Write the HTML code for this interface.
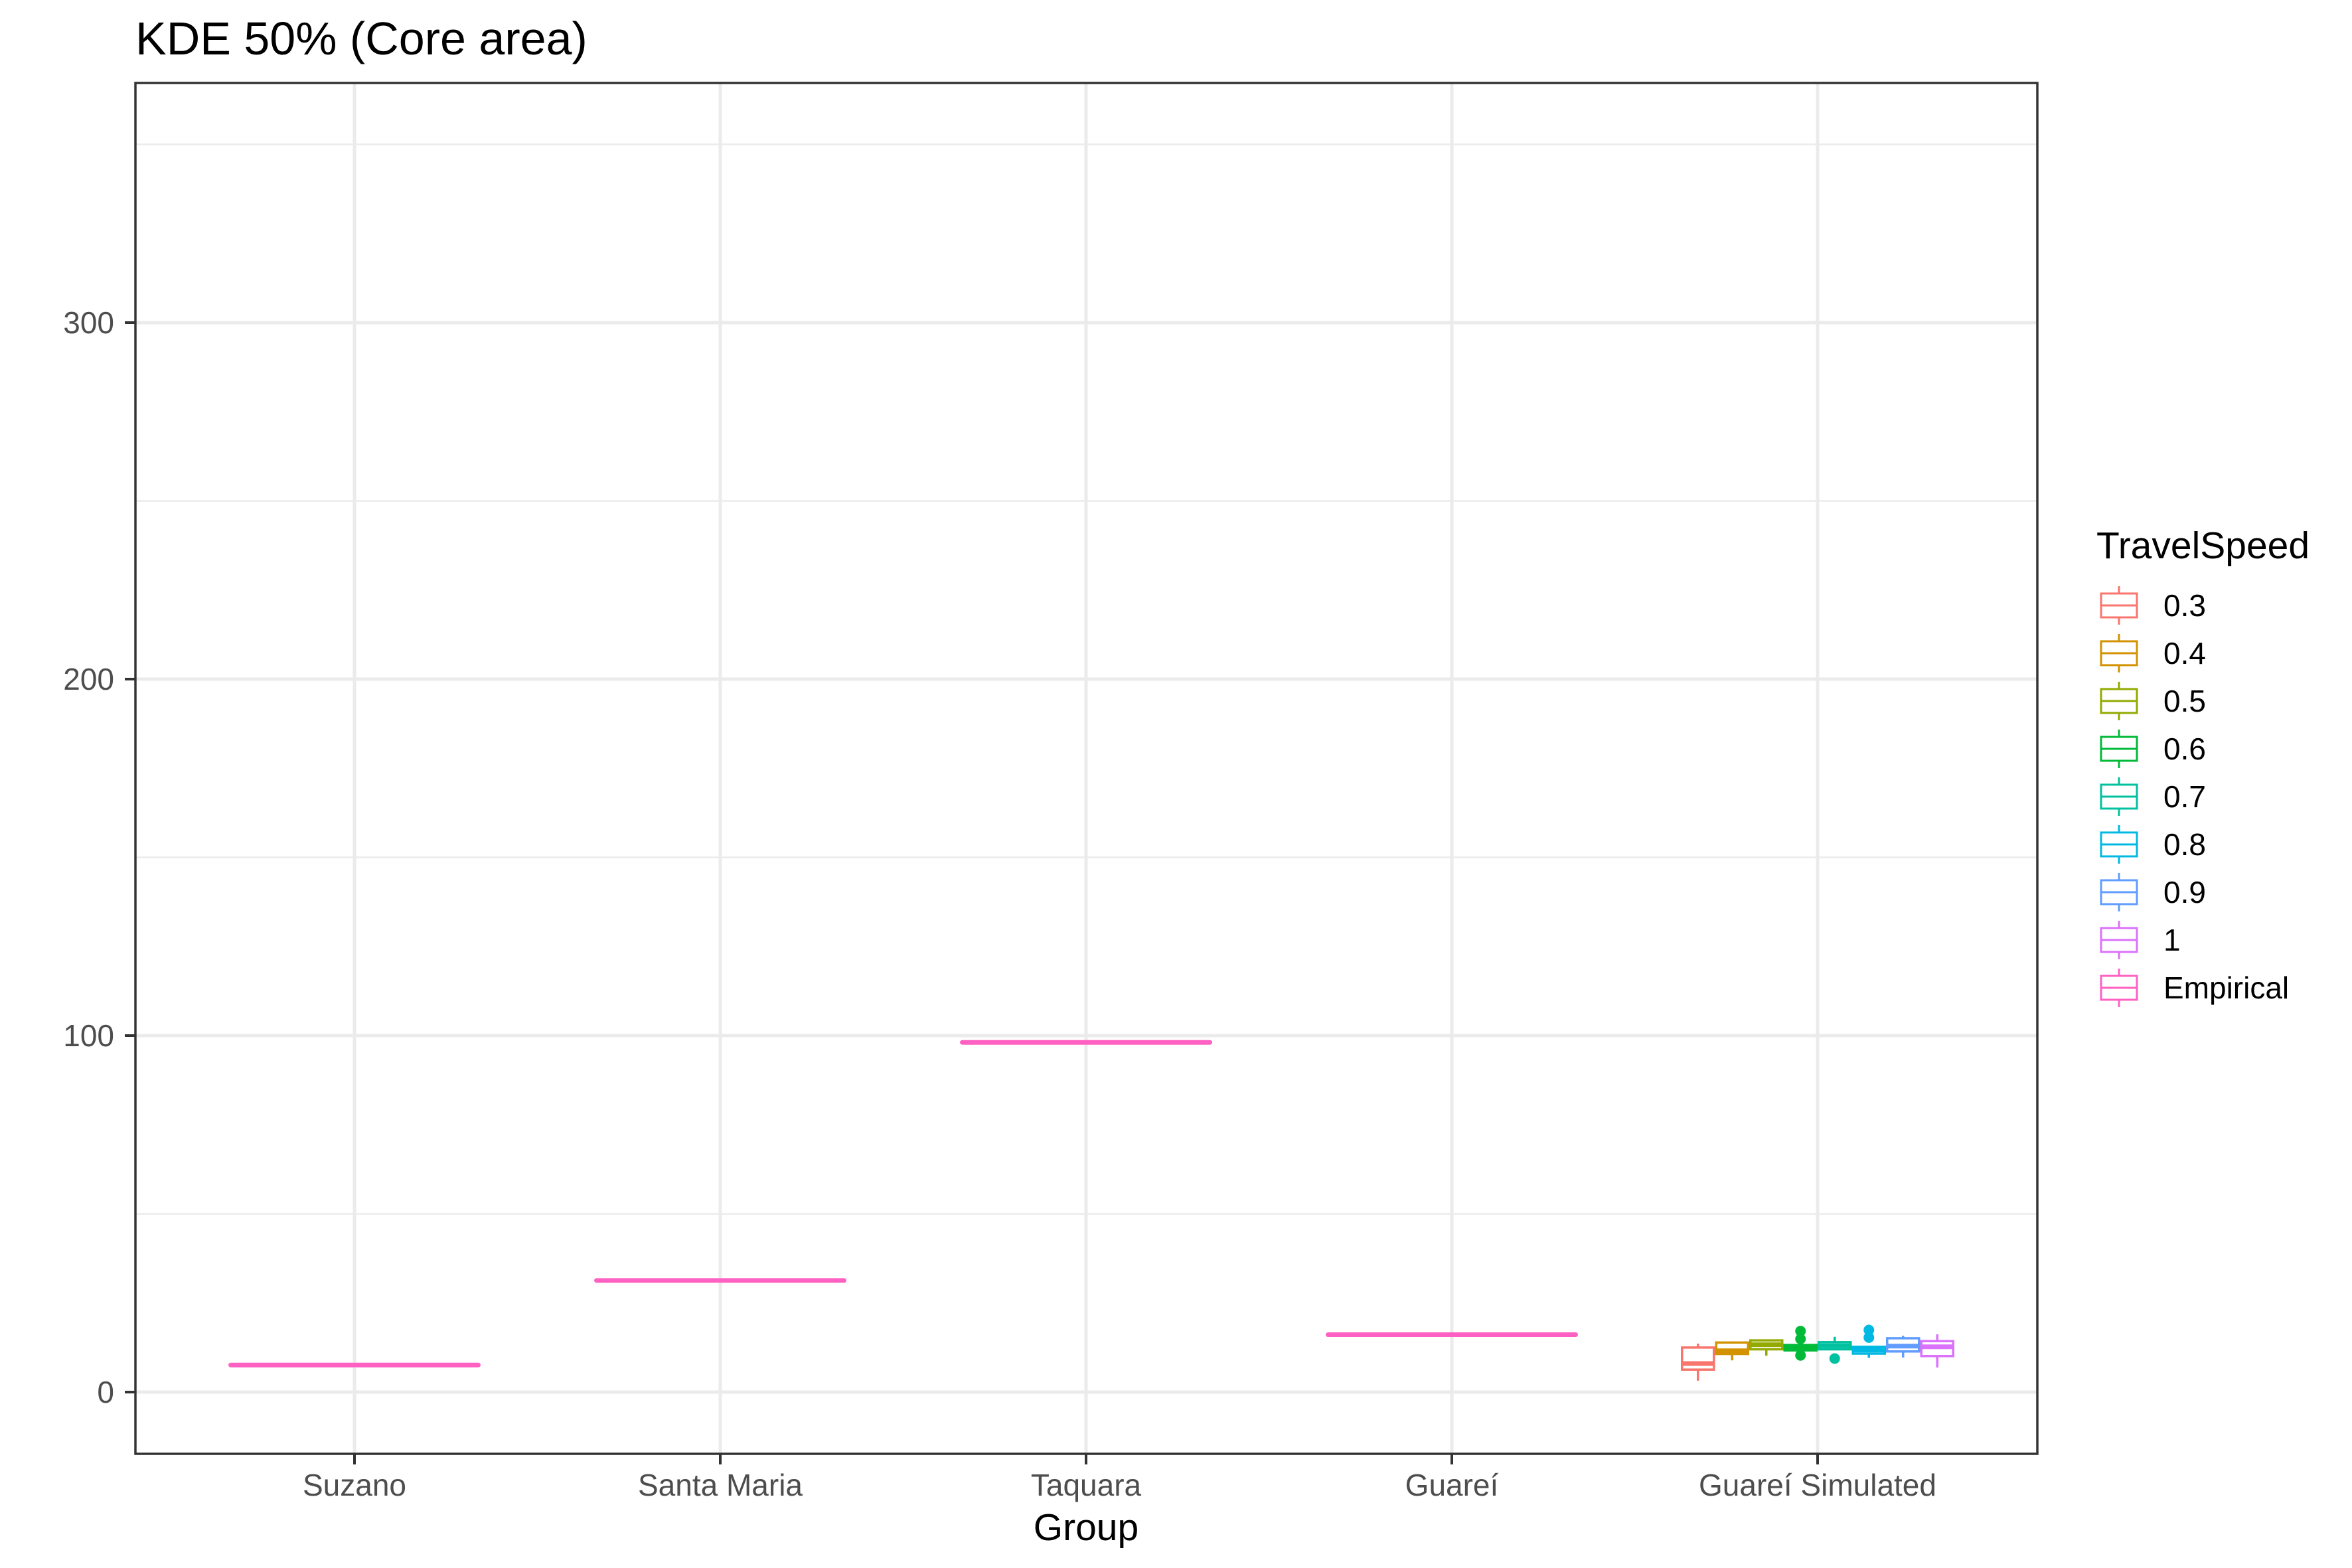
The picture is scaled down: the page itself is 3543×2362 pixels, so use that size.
<!DOCTYPE html>
<html><head><meta charset="utf-8">
<style>
html,body{margin:0;padding:0;background:#fff;}
svg{display:block;font-family:"Liberation Sans",Arial,sans-serif;}
</style></head>
<body>
<svg id="chart" width="3543" height="2362" viewBox="0 0 3543 2362" xmlns="http://www.w3.org/2000/svg">
  <rect x="0" y="0" width="3543" height="2362" fill="#fff"/>
  <text x="204" y="82" font-size="70" fill="#000">KDE 50% (Core area)</text>
  <g id="grid"></g>
  <g id="marks"></g>
  <rect x="204" y="125" width="2865" height="2065" fill="none" stroke="#333" stroke-width="3.5"/>
  <g id="axes"></g>
  <text x="1636" y="2320" font-size="57" text-anchor="middle" fill="#000">Group</text>
  <g id="legend">
    <text x="3158" y="841" font-size="57" fill="#000">TravelSpeed</text>
  </g>
</svg>
<script>
const groups = ["Suzano","Santa Maria","Taquara","Guareí","Guareí Simulated"];
const empiricalValues = [7.6, 31.3, 98.1, 16.1];
const speeds = ["0.3","0.4","0.5","0.6","0.7","0.8","0.9","1"];
const simLower  = [3.2, 8.9, 10.2, 11.7, 12.0, 9.6, 9.7, 6.9];
const simQ1     = [6.3, 10.7, 12.0, 11.7, 12.0, 10.8, 11.4, 10.1];
const simMedian = [8.0, 11.6, 13.3, 12.5, 13.0, 11.8, 12.9, 12.7];
const simQ3     = [12.5, 13.9, 14.5, 13.2, 14.0, 12.7, 15.1, 14.3];
const simUpper  = [13.6, 14.2, 14.7, 13.2, 15.5, 12.7, 15.8, 16.2];
const simOutliers = [[], [], [], [17.1, 14.9, 10.3], [9.4], [17.4, 15.3], [], []];
const yTicks = [0, 100, 200, 300];
const yMinor = [50, 150, 250, 350];
const legendLabels = ["0.3","0.4","0.5","0.6","0.7","0.8","0.9","1","Empirical"];
const colors = ["#F8766D","#D39200","#93AA00","#00BA38","#00C19F","#00B9E3","#619CFF","#DB72FB","#FF61C3"];

const NS = "http://www.w3.org/2000/svg";
const PL = 204, PR = 3069, PT = 125, PB = 2190;
const y0px = 2097, pxPer = 5.37;
function yScale(v){ return y0px - v*pxPer; }
const xStep = 551, x0 = 534;
function xScale(i){ return x0 + i*xStep; }
function mk(tag, attrs, parent){
  const e = document.createElementNS(NS, tag);
  for (const k in attrs) e.setAttribute(k, attrs[k]);
  parent.appendChild(e);
  return e;
}
const grid = document.getElementById('grid');
const marks = document.getElementById('marks');
const axes = document.getElementById('axes');
const legend = document.getElementById('legend');

yMinor.forEach(v=>{
  const l = mk('line',{x1:PL,x2:PR,y1:yScale(v),y2:yScale(v),stroke:'#ebebeb','stroke-width':2.5},grid);
  
  
});
yTicks.forEach(v=>{
  const l = mk('line',{x1:PL,x2:PR,y1:yScale(v),y2:yScale(v),stroke:'#ebebeb','stroke-width':5},grid);
  
  
  const t = mk('line',{x1:PL-16,x2:PL,y1:yScale(v),y2:yScale(v),stroke:'#333','stroke-width':4},axes);
  
  
  const tx = mk('text',{x:172,y:yScale(v)+16,'font-size':46,'text-anchor':'end',fill:'#4d4d4d'},axes);
  tx.textContent = v;
  
  
});
groups.forEach((g,i)=>{
  const x = xScale(i);
  const l = mk('line',{x1:x,x2:x,y1:PT,y2:PB,stroke:'#ebebeb','stroke-width':5},grid);
  
  
  const t = mk('line',{x1:x,x2:x,y1:PB,y2:PB+16,stroke:'#333','stroke-width':4},axes);
  
  
  const tx = mk('text',{x:x,y:2253,'font-size':46,'text-anchor':'middle',fill:'#4d4d4d'},axes);
  tx.textContent = g;
  
  
});

const empW = 373;
empiricalValues.forEach((v,i)=>{
  const x = xScale(i);
  const l = mk('line',{x1:x-empW/2,x2:x+empW/2,y1:yScale(v),y2:yScale(v),stroke:colors[8],'stroke-width':7,'stroke-linecap':'round'},marks);
  
  
});

const simCenter = xScale(4), stride = 51.5, bw = 48;
speeds.forEach((s,k)=>{
  const cx = simCenter + (k - (speeds.length-1)/2)*stride;
  const c = colors[k];
  const g = mk('g',{},marks);
  
  
  mk('line',{x1:cx,x2:cx,y1:yScale(simUpper[k]),y2:yScale(simQ3[k]),stroke:c,'stroke-width':3.5},g);
  mk('line',{x1:cx,x2:cx,y1:yScale(simQ1[k]),y2:yScale(simLower[k]),stroke:c,'stroke-width':3.5},g);
  const top = yScale(simQ3[k]), bot = yScale(simQ1[k]);
  mk('rect',{x:cx-bw/2,y:top,width:bw,height:Math.max(bot-top,0.5),fill:'#fff',stroke:c,'stroke-width':3.5},g);
  mk('line',{x1:cx-bw/2,x2:cx+bw/2,y1:yScale(simMedian[k]),y2:yScale(simMedian[k]),stroke:c,'stroke-width':7},g);
  simOutliers[k].forEach(o=>{
    const p = mk('circle',{cx:cx,cy:yScale(o),r:8,fill:c},g);
    
    
  });
});

legendLabels.forEach((lab,i)=>{
  const cy = 912 + i*72;
  const g = mk('g',{},legend);
  
  
  const c = colors[i];
  mk('line',{x1:3192,x2:3192,y1:cy-29,y2:cy+29,stroke:c,'stroke-width':3},g);
  mk('rect',{x:3165,y:cy-18,width:54,height:36,fill:'#fff',stroke:c,'stroke-width':3},g);
  mk('line',{x1:3165,x2:3219,y1:cy,y2:cy,stroke:c,'stroke-width':3},g);
  const t = mk('text',{x:3259,y:cy+16,'font-size':46,fill:'#000'},g);
  t.textContent = lab;
});
</script>
</body></html>
